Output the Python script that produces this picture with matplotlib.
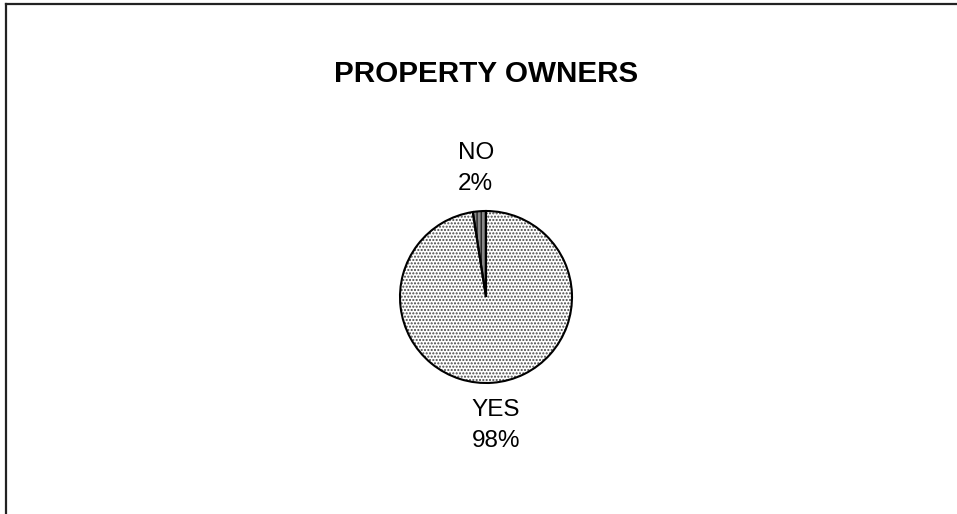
import matplotlib.pyplot as plt
from matplotlib.lines import Line2D

plt.rcParams['font.family'] = ['Liberation Sans', 'DejaVu Sans']
plt.rcParams['hatch.linewidth'] = 1.0

categories = ['NO', 'YES']
shares = [2.45, 97.55]
fills = ['#8a8a8a', '#ffffff']
hatches = ['||||', '.....']
hatch_colors = ['#222222', '#444444']

fig = plt.figure(figsize=(9.57, 5.14), dpi=100)
fig.patch.set_facecolor('white')

# frame: only top and left lines are visible in the original
fig.add_artist(Line2D([5.5 / 957, 1], [1 - 4 / 514, 1 - 4 / 514], color='#222222', lw=1.6,
                      transform=fig.transFigure))
fig.add_artist(Line2D([5.5 / 957, 5.5 / 957], [0, 1 - 4 / 514], color='#222222', lw=1.6,
                      transform=fig.transFigure))

fig.text(486 / 957, 1 - 74 / 514, 'PROPERTY OWNERS', ha='center', va='center',
         fontsize=21.3, fontweight='bold')

cx, cy, r = 486, 297, 86
ax = fig.add_axes([(cx - r) / 957, (514 - cy - r) / 514, 2 * r / 957, 2 * r / 514])
ax.set_xlim(-1, 1)
ax.set_ylim(-1, 1)
ax.axis('off')

labels = [f'{c}\n{round(s)}%' for c, s in zip(categories, shares)]

# hatched fill
wedges, _ = ax.pie(shares, startangle=90, counterclock=True, radius=1,
                   colors=fills, wedgeprops=dict(linewidth=0))
for w, h, hc in zip(wedges, hatches, hatch_colors):
    w.set_hatch(h)
    w.set_edgecolor(hc)

# outlines + labels
wedges2, texts = ax.pie(shares, startangle=90, counterclock=True, radius=1,
                        labels=labels, labeldistance=1.5,
                        wedgeprops=dict(fill=False, edgecolor='black', linewidth=1.5),
                        textprops=dict(fontsize=17.5, linespacing=1.55))
for t in texts:
    t.set_horizontalalignment('center')
    t.set_multialignment('left')
ax.set_xlim(-1, 1)
ax.set_ylim(-1, 1)

fig.savefig('out.png', dpi=100, facecolor='white')
